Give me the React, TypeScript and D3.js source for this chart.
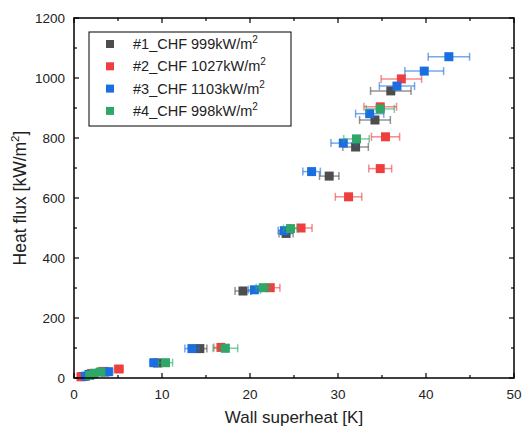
import React from "react";
import * as d3 from "d3";

const seriesNames = ["#1_CHF 999kW/m", "#2_CHF 1027kW/m", "#3_CHF 1103kW/m", "#4_CHF 998kW/m"];
const seriesColors = ["#4d4d4d", "#ef3e3e", "#1a6ee0", "#2ea768"];

// Wall superheat [K]
const s1X = [1.0, 2.1, 3.5, 9.5, 14.3, 19.2, 24.1, 29.0, 32.0, 34.2, 36.0];
const s1Y = [5, 14, 20, 50, 98, 290, 482, 673, 770, 860, 957];
const s1E = [0.4, 0.4, 0.5, 0.5, 0.8, 0.9, 0.8, 1.1, 1.45, 1.75, 2.3];

const s2X = [0.8, 2.0, 3.3, 5.1, 16.7, 22.3, 25.8, 31.2, 34.8, 35.4, 34.8, 37.2];
const s2Y = [4, 15, 22, 30, 102, 301, 500, 604, 698, 804, 904, 997];
const s2E = [0.4, 0.4, 0.5, 0.5, 0.8, 1.1, 1.25, 1.5, 1.3, 1.6, 1.85, 2.3];

const s3X = [1.3, 1.7, 3.9, 9.1, 13.4, 20.5, 23.9, 27.0, 30.6, 33.6, 36.7, 39.8, 42.6];
const s3Y = [6, 12, 21, 51, 98, 294, 491, 688, 783, 881, 973, 1023, 1071];
const s3E = [0.4, 0.4, 0.5, 0.5, 0.8, 0.7, 0.7, 1.0, 1.4, 1.6, 2.0, 2.2, 2.35];

const s4X = [1.8, 2.3, 3.0, 10.4, 17.2, 21.5, 24.6, 32.1, 34.8];
const s4Y = [9, 16, 20, 51, 99, 301, 498, 797, 897];
const s4E = [0.4, 0.4, 0.5, 0.8, 1.4, 0.8, 0.8, 1.45, 1.6];

const xTicks = [0, 10, 20, 30, 40, 50];
const xMinor = [5, 15, 25, 35, 45];
const yTicks = [0, 200, 400, 600, 800, 1000, 1200];
const yMinor = [100, 300, 500, 700, 900, 1100];

const allSeries = [
  { x: s1X, y: s1Y, e: s1E },
  { x: s2X, y: s2Y, e: s2E },
  { x: s3X, y: s3Y, e: s3E },
  { x: s4X, y: s4Y, e: s4E },
];

export default function App() {
  const W = 532, H = 427;
  const L = 74, R = 514, T = 18, B = 378;
  const x = d3.scaleLinear().domain([0, 50]).range([L, R]);
  const y = d3.scaleLinear().domain([0, 1200]).range([B, T]);
  const ms = 9;
  const font = "Arial, 'Liberation Sans', sans-serif";
  const tickColor = "#222";

  return (
    <svg width={W} height={H} style={{ position: "absolute", left: 0, top: 0, background: "#fff" }} fontFamily={font}>
      {/* data */}
      {allSeries.map((s, si) => (
        <g key={si}>
          {s.x.map((xv, i) => {
            const cy = y(s.y[i]);
            const x0 = x(xv - s.e[i]), x1 = x(xv + s.e[i]);
            return (
              <g key={i} stroke={seriesColors[si]} strokeOpacity={0.6} strokeWidth={1.5}>
                <line x1={x0} x2={x1} y1={cy} y2={cy} />
                <line x1={x0} x2={x0} y1={cy - 4} y2={cy + 4} />
                <line x1={x1} x2={x1} y1={cy - 4} y2={cy + 4} />
              </g>
            );
          })}
          {s.x.map((xv, i) => (
            <rect key={"m" + i} x={x(xv) - ms / 2} y={y(s.y[i]) - ms / 2} width={ms} height={ms} fill={seriesColors[si]} />
          ))}
        </g>
      ))}

      {/* frame */}
      <rect x={L} y={T} width={R - L} height={B - T} fill="none" stroke="#000" strokeWidth={1.5} />

      {/* x ticks */}
      {xTicks.map((t) => (
        <g key={"xt" + t}>
          <line x1={x(t)} x2={x(t)} y1={B} y2={B - 5} stroke="#000" strokeWidth={1.2} />
          <line x1={x(t)} x2={x(t)} y1={T} y2={T + 5} stroke="#000" strokeWidth={1.2} />
          <text x={x(t)} y={399} textAnchor="middle" fontSize={13.5} fill={tickColor}>{t}</text>
        </g>
      ))}
      {xMinor.map((t) => (
        <g key={"xm" + t}>
          <line x1={x(t)} x2={x(t)} y1={B} y2={B - 3} stroke="#000" strokeWidth={1.2} />
          <line x1={x(t)} x2={x(t)} y1={T} y2={T + 3} stroke="#000" strokeWidth={1.2} />
        </g>
      ))}
      {/* y ticks */}
      {yTicks.map((t) => (
        <g key={"yt" + t}>
          <line x1={L} x2={L + 5} y1={y(t)} y2={y(t)} stroke="#000" strokeWidth={1.2} />
          <line x1={R} x2={R - 5} y1={y(t)} y2={y(t)} stroke="#000" strokeWidth={1.2} />
          <text x={65} y={y(t) + 5} textAnchor="end" fontSize={13.5} fill={tickColor}>{t}</text>
        </g>
      ))}
      {yMinor.map((t) => (
        <g key={"ym" + t}>
          <line x1={L} x2={L + 3} y1={y(t)} y2={y(t)} stroke="#000" strokeWidth={1.2} />
          <line x1={R} x2={R - 3} y1={y(t)} y2={y(t)} stroke="#000" strokeWidth={1.2} />
        </g>
      ))}

      {/* axis titles */}
      <text x={(L + R) / 2} y={423} textAnchor="middle" fontSize={17} fill={tickColor}>Wall superheat [K]</text>
      <text transform={`translate(26,${(T + B) / 2}) rotate(-90)`} textAnchor="middle" fontSize={17.5} fill={tickColor}>
        Heat flux [kW/m<tspan dy={-7} fontSize={11.5}>2</tspan><tspan dy={7}>]</tspan>
      </text>

      {/* legend */}
      <rect x={89} y={32} width={202} height={94} fill="#fff" stroke="#000" strokeWidth={1} />
      {seriesNames.map((n, i) => {
        const ry = 44 + i * 22.3;
        return (
          <g key={"lg" + i}>
            <rect x={110 - 4} y={ry - 4} width={8} height={8} fill={seriesColors[i]} />
            <text x={133} y={ry + 5} fontSize={14.5} fill={tickColor}>
              {n}<tspan dy={-6} fontSize={10}>2</tspan>
            </text>
          </g>
        );
      })}
    </svg>
  );
}
